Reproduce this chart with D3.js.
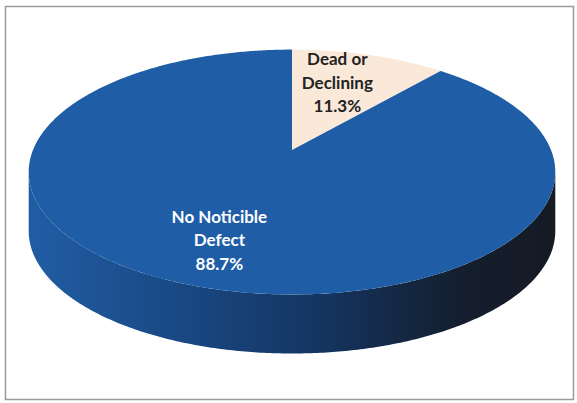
<!DOCTYPE html>
<html>
<head>
<meta charset="utf-8">
<script src="https://cdn.jsdelivr.net/npm/d3@7"></script>
<style>
  body { margin: 0; background: #fff; }
  svg { display: block; }
</style>
</head>
<body>
<div id="chart"></div>
<script>
// data
const categories = ["Dead or Declining", "No Noticible Defect"];
const values = [11.3, 88.7];
const labelLines = [["Dead or", "Declining", "11.3%"], ["No Noticible", "Defect", "88.7%"]];
const topColors = ["#fae9d9", "#1f5ea7"];
const textColors = ["#222222", "#ffffff"];

const W = 577, H = 403;
var svg = d3.select("#chart").append("svg").attr("width", W).attr("height", H);

// frame
svg.append("rect").attr("x", 5.5).attr("y", 6.5).attr("width", 568).attr("height", 393)
   .attr("fill", "none").attr("stroke", "#9a9a9a").attr("stroke-width", 1.5);

// simple perspective for the tilted disk
var cx = 292, cy = 150, A = 259, B = 118.5, k = 0.18, depth = 59;
function proj(a, r, dz) {
    var u = r * Math.sin(a), v = -r * Math.cos(a);
    var s = 1 / (1 - k * v);
    return [cx + A * u * s, cy + B * v * s + (dz || 0)];
}

var pie = d3.pie().sort(null).value(d => d);
var arcs = pie(values);
var line = d3.line();

function arcPoints(a0, a1, dz) {
    var n = Math.max(2, Math.ceil(Math.abs(a1 - a0) / 0.01));
    return d3.range(n + 1).map(i => proj(a0 + (a1 - a0) * i / n, 1, dz));
}

// side gradient
var defs = svg.append("defs");
var grad = defs.append("linearGradient").attr("id", "side")
    .attr("gradientUnits", "userSpaceOnUse")
    .attr("x1", cx - A * 1.02).attr("x2", cx + A * 1.02).attr("y1", 0).attr("y2", 0);
grad.append("stop").attr("offset", "0%").attr("stop-color", "#215da4");
grad.append("stop").attr("offset", "25%").attr("stop-color", "#1a4b88");
grad.append("stop").attr("offset", "55%").attr("stop-color", "#143561");
grad.append("stop").attr("offset", "82%").attr("stop-color", "#141e2e");
grad.append("stop").attr("offset", "100%").attr("stop-color", "#151a24");

// visible rim range (silhouette where v = k)
var rimA0 = Math.acos(-k), rimA1 = 2 * Math.PI - Math.acos(-k);
arcs.forEach(function (d) {
    var a0 = Math.max(d.startAngle, rimA0), a1 = Math.min(d.endAngle, rimA1);
    if (a1 <= a0) return;
    var pts = arcPoints(a0, a1, 0).concat(arcPoints(a1, a0, depth));
    svg.append("path").attr("d", line(pts) + "Z").attr("fill", "url(#side)");
});

// top faces
svg.selectAll("path.top").data(arcs).enter().append("path")
   .attr("class", "top")
   .attr("d", d => line([proj(0, 0)].concat(arcPoints(d.startAngle, d.endAngle, 0))) + "Z")
   .attr("fill", (d, i) => topColors[i]);

// labels
var labelR = [0.55, 0.71];
var labelDy = [-29, -17];
arcs.forEach(function (d, i) {
    var p = proj((d.startAngle + d.endAngle) / 2, labelR[i], 0);
    var t = svg.append("text")
        .attr("x", p[0]).attr("y", p[1] + labelDy[i])
        .attr("text-anchor", "middle")
        .attr("font-family", "Lato, 'Open Sans', sans-serif")
        .attr("font-weight", "bold").attr("font-size", 17)
        .attr("fill", textColors[i]);
    labelLines[i].forEach(function (s, j) {
        t.append("tspan").attr("x", p[0]).attr("dy", j === 0 ? 0 : 23.5).text(s);
    });
});
</script>
</body>
</html>
